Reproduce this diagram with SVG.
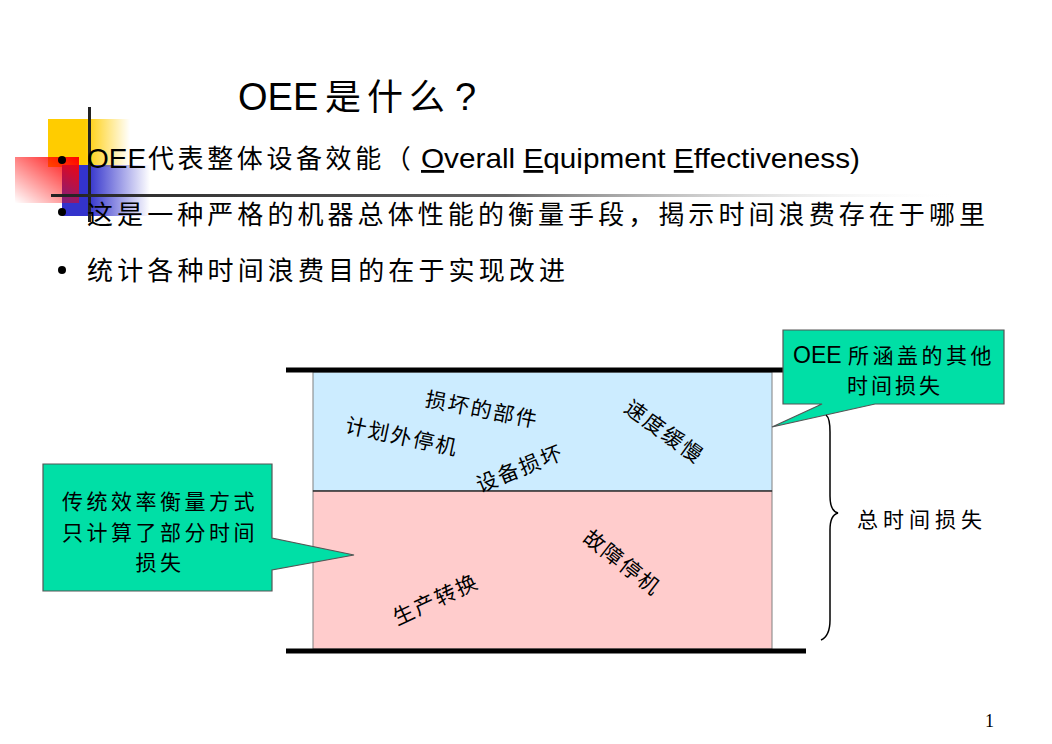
<svg xmlns="http://www.w3.org/2000/svg" width="1052" height="744" viewBox="0 0 1052 744">
<style>
.cjk{font-family:"Liberation Sans","Noto Sans CJK SC",sans-serif;fill:#000}
.lbl{font-size:21px;letter-spacing:2px}
.call{fill:#00DFA6;stroke:#555;stroke-width:1.2}
.bar{stroke:#000;stroke-width:5}
</style>
<defs>
<linearGradient id="gY" x1="0" x2="1" y1="0" y2="0"><stop offset="0.45" stop-color="#FFCC00"/><stop offset="1" stop-color="#FFCC00" stop-opacity="0"/></linearGradient>
<linearGradient id="gB" x1="0" x2="1" y1="0" y2="0"><stop offset="0.3" stop-color="#3333CC"/><stop offset="1" stop-color="#3333CC" stop-opacity="0"/></linearGradient>
<linearGradient id="gR" x1="1" y1="0" x2="0" y2="1"><stop offset="0" stop-color="#FF0000"/><stop offset="1" stop-color="#FF0000" stop-opacity="0"/></linearGradient>
<linearGradient id="gL" x1="0" x2="1" y1="0" y2="0"><stop offset="0" stop-color="#222"/><stop offset="0.5" stop-color="#666"/><stop offset="1" stop-color="#fff" stop-opacity="0"/></linearGradient>
</defs>
<rect width="1052" height="744" fill="#fff"/>
<g id="decor">
<rect x="48" y="119" width="82" height="48" fill="url(#gY)"/>
<rect x="62" y="165" width="88" height="51" fill="url(#gB)"/>
<rect x="15" y="157" width="64" height="46" fill="url(#gR)"/>
<rect x="88" y="107" width="3" height="115" fill="#222"/>
<rect x="51" y="194" width="910" height="3" fill="url(#gL)"/>
</g>
<g id="title">
<text x="238" y="110" class="cjk" font-size="38">OEE<tspan x="325" font-size="36" letter-spacing="6">是什么</tspan><tspan x="455">?</tspan></text>
</g>
<g id="bullets" class="cjk" font-size="28">
<circle cx="62" cy="160" r="4" fill="#000"/>
<circle cx="62" cy="212" r="4" fill="#000"/>
<circle cx="62" cy="270" r="4" fill="#000"/>
<text x="87" y="168">OEE<tspan x="148" font-size="26" letter-spacing="3.6">代表整体设备效能（</tspan></text>
<text x="421" y="168" textLength="439" lengthAdjust="spacingAndGlyphs"><tspan text-decoration="underline">O</tspan>verall <tspan text-decoration="underline">E</tspan>quipment <tspan text-decoration="underline">E</tspan>ffectiveness)</text>
<text x="87" y="224" font-size="26" textLength="898" lengthAdjust="spacing">这是一种严格的机器总体性能的衡量手段，揭示时间浪费存在于哪里</text>
<text x="87" y="280" font-size="26" textLength="478" lengthAdjust="spacing">统计各种时间浪费目的在于实现改进</text>
</g>
<g id="chart">
<rect x="313" y="372" width="459" height="119" fill="#CCECFF" stroke="#808080" stroke-width="1"/>
<rect x="313" y="491" width="459" height="158" fill="#FFCCCC" stroke="#808080" stroke-width="1"/>
<line x1="313" y1="491" x2="772" y2="491" stroke="#000" stroke-width="1.2"/>
<line class="bar" x1="286" y1="370" x2="806" y2="370"/>
<line class="bar" x1="286" y1="651" x2="806" y2="651"/>
</g>
<g id="labels" class="cjk lbl">
<text transform="translate(482,410) rotate(11)" text-anchor="middle" dy="7">损坏的部件</text>
<text transform="translate(402,437) rotate(12)" text-anchor="middle" dy="7">计划外停机</text>
<text transform="translate(520,469) rotate(-22)" text-anchor="middle" dy="7">设备损坏</text>
<text transform="translate(664,432) rotate(36)" text-anchor="middle" dy="7">速度缓慢</text>
<text transform="translate(436,600) rotate(-25)" text-anchor="middle" dy="7">生产转换</text>
<text transform="translate(622,563) rotate(38)" text-anchor="middle" dy="7">故障停机</text>
</g>
<g id="callout-right">
<path class="call" d="M783,330 H1004 V404 H875 L772,427 L822,404 H783 Z"/>
<text x="793" y="363" class="cjk" font-size="23">OEE<tspan x="848" font-size="21" letter-spacing="3.5">所涵盖的其他</tspan></text>
<text x="895" y="393" class="cjk" font-size="21" letter-spacing="3" text-anchor="middle">时间损失</text>
</g>
<g id="callout-left">
<path class="call" d="M43,464 H272 V538 L354,555 L272,570 V591 H43 Z"/>
<g class="cjk" font-size="21" letter-spacing="3.5" text-anchor="middle">
<text x="160" y="509">传统效率衡量方式</text>
<text x="160" y="540">只计算了部分时间</text>
<text x="160" y="570">损失</text>
</g>
</g>
<g id="brace">
<path d="M821,640 Q830,636 830,620 V530 Q830,515 838,513 Q830,511 830,496 V432 Q830,418 826,415" fill="none" stroke="#000" stroke-width="1.5"/>
<text x="857" y="527" class="cjk" font-size="21" letter-spacing="5">总时间损失</text>
</g>
<text x="985" y="727" font-family="Liberation Serif,serif" font-size="18">1</text>
</svg>
